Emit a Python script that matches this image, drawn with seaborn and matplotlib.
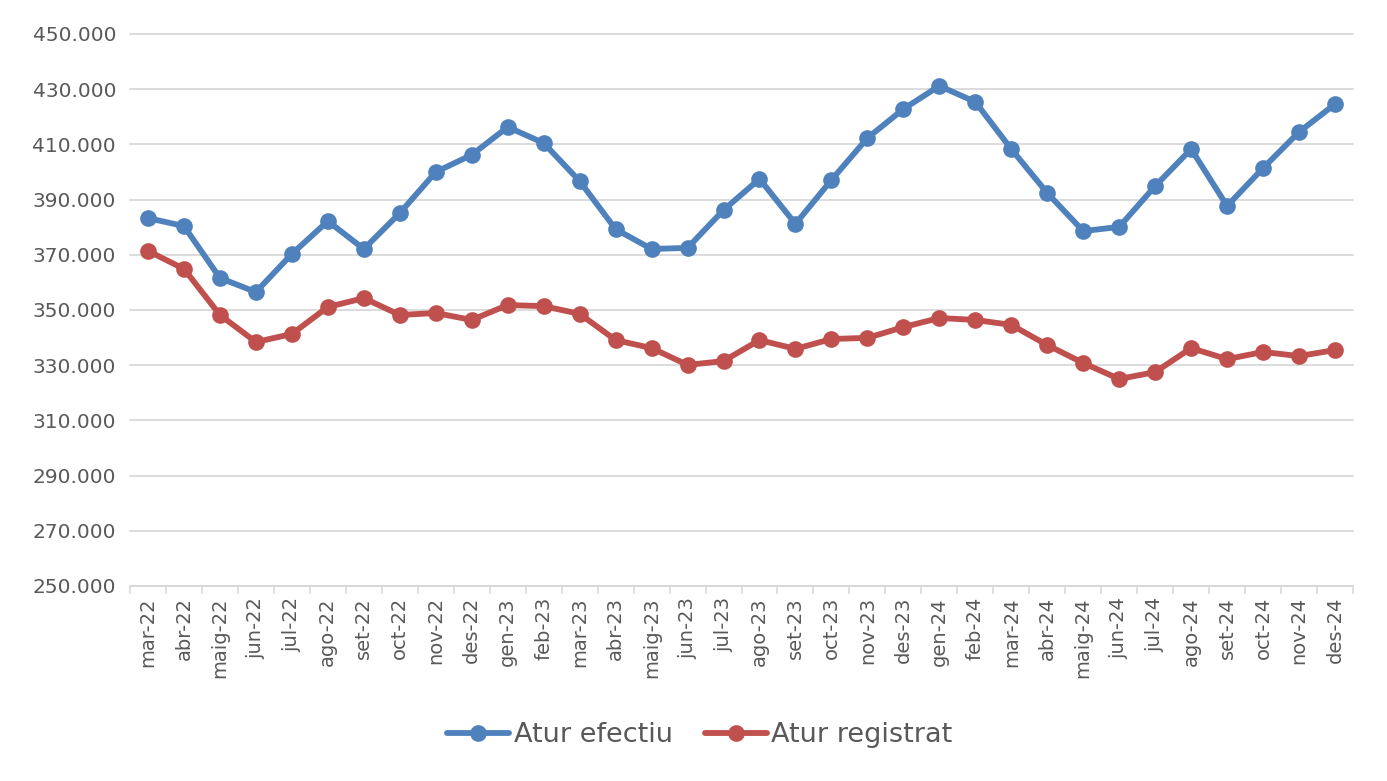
import seaborn as sns
import matplotlib.pyplot as plt
import matplotlib.ticker as mticker
import pandas as pd

# -------- data -------- #
months = ['mar-22', 'abr-22', 'maig-22', 'jun-22', 'jul-22', 'ago-22', 'set-22', 'oct-22',
          'nov-22', 'des-22', 'gen-23', 'feb-23', 'mar-23', 'abr-23', 'maig-23', 'jun-23',
          'jul-23', 'ago-23', 'set-23', 'oct-23', 'nov-23', 'des-23', 'gen-24', 'feb-24',
          'mar-24', 'abr-24', 'maig-24', 'jun-24', 'jul-24', 'ago-24', 'set-24', 'oct-24',
          'nov-24', 'des-24']

atur_efectiu = [383300, 380400, 361600, 356500, 370300, 382200, 372100, 385100,
                400000, 406200, 416300, 410500, 396700, 379300, 372100, 372500,
                386200, 397500, 381200, 397100, 412300, 422800, 431200, 425400,
                408300, 392400, 378600, 380100, 394900, 408300, 387700, 401400,
                414500, 424600]

atur_registrat = [371400, 364900, 348200, 338400, 341300, 351100, 354300, 348200,
                  348900, 346400, 351800, 351400, 348600, 339100, 336200, 330100,
                  331500, 339100, 335900, 339500, 339900, 343800, 347100, 346400,
                  344600, 337300, 330800, 325000, 327500, 336200, 332200, 334800,
                  333300, 335500]

y_ticks = list(range(250000, 450001, 20000))

series = ['Atur efectiu', 'Atur registrat']
colors = ['#4F81BD', '#C0504D']

df = pd.DataFrame({'pos': list(range(len(months))) * 2,
                   'valor': atur_efectiu + atur_registrat,
                   'serie': [series[0]] * len(months) + [series[1]] * len(months)})

# -------- plot -------- #
sns.set_theme(style='white')
plt.rcParams['font.family'] = ['DejaVu Sans']
text_col = '#595959'

fig = plt.figure(figsize=(13.87, 7.81), dpi=100)
ax = fig.add_axes([130 / 1387, 1 - 586 / 781, (1353 - 130) / 1387, (586 - 34) / 781])

sns.lineplot(data=df, x='pos', y='valor', hue='serie', palette=colors, sort=False,
             marker='o', markersize=12, markeredgewidth=0, linewidth=4.2, ax=ax)

ax.set_ylim(250000, 450000)
ax.set_xlim(-0.5, len(months) - 0.5)
ax.set_yticks(y_ticks)
ax.yaxis.set_major_formatter(mticker.FuncFormatter(lambda v, p: f'{int(v):,}'.replace(',', '.')))
ax.grid(axis='y', color='#D9D9D9', linewidth=1.3)
for gl in ax.get_ygridlines():
    gl.set_clip_on(False)
ax.set_axisbelow(True)

ax.set_xticks(range(len(months)))
ax.set_xticklabels(months, rotation=90)
ax.xaxis.set_minor_locator(mticker.FixedLocator([i - 0.5 for i in range(len(months) + 1)]))
ax.tick_params(axis='x', which='major', length=0, pad=8, labelsize=14, labelcolor=text_col)
ax.tick_params(axis='x', which='minor', length=6, width=1.2, color='#D9D9D9', bottom=True)
ax.tick_params(axis='y', length=0, pad=10, labelsize=14.5, labelcolor=text_col)

for s in ['top', 'right', 'left']:
    ax.spines[s].set_visible(False)
ax.spines['bottom'].set_color('#D9D9D9')
ax.spines['bottom'].set_linewidth(1.3)

ax.set_xlabel('')
ax.set_ylabel('')
leg = ax.legend(loc='center', bbox_to_anchor=(0.466, -0.27), ncol=2, frameon=False,
                fontsize=19.5, handlelength=2.3, columnspacing=1.2, handletextpad=0.15,
                labelcolor=text_col)

fig.savefig('out.png', dpi=100)
